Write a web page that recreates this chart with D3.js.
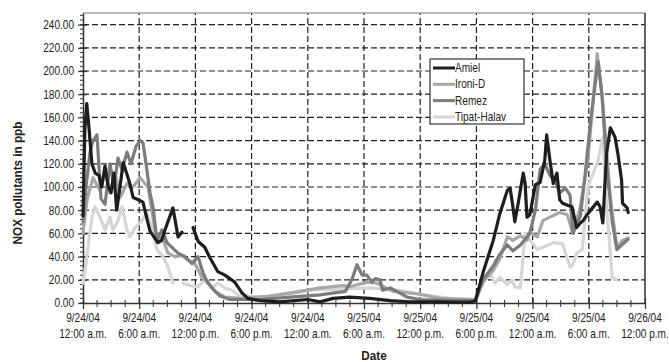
<!DOCTYPE html>
<html>
<head>
<meta charset="utf-8">
<script src="https://cdn.jsdelivr.net/npm/d3@7"></script>
<style>
  body { margin: 0; background: #fff; }
  svg text { font-family: "Liberation Sans", Arial, sans-serif; fill: #222; }
</style>
</head>
<body>
<div id="chart"></div>
<script>
// hours since 9/24/04 00:00, NOx in ppb; null = gap in the record
const amiel = [[0,75],[0.2,150],[0.4,172],[0.65,150],[0.95,120],[1.3,112],[1.7,110],[2.0,100],[2.35,118],[2.7,100],[3.0,95],[3.3,112],[3.6,80],[4.3,121],[5.0,103],[5.35,91],[5.9,89],[6.4,87],[6.6,80],[7.15,62],[8.0,52],[8.4,54],[8.75,63],[9.6,82],[10.15,57],[10.55,61],null,[11.75,65],[12.3,53],[13.0,48],[13.55,39],[14.4,27],[15.15,24],[16.2,18],[16.95,9],[17.6,4],[18.9,2],[21,1],[24,3],[25.3,1],[26.7,4],[28.5,5],[30.6,4],[32.8,2],[35,1],[38,1],[41.3,0.5],[41.9,2],[42.7,26],[43.8,54],[44.5,77],[45.3,97],[45.6,99],[45.9,83],[46.1,70],[46.4,83],[47.0,112],[47.2,103],[47.4,74],[47.7,76],[48.3,102],[48.8,104],[49.3,123],[49.5,145],[49.85,123],[50.2,103],[50.6,112],[50.9,89],[51.2,86],[51.8,84],[52.2,83],[52.7,65],[53.1,69],[53.4,71],[53.9,77],[54.4,82],[54.9,87],[55.2,83],[55.5,69],[55.9,129],[56.3,151],[56.8,143],[57.1,129],[57.5,106],[57.6,86],[58.1,82],[58.2,78]];
const ironiD = [[0,60],[0.43,89],[1.07,108],[1.81,97],[2.35,114],[2.88,95],[3.42,112],[3.95,91],[4.7,103],[5.34,100],[6.09,108],[6.62,103],[6.94,100],[7.47,74],[7.9,52],[8.43,57],[9.07,43],[9.82,40],[10.57,41],[11.21,37],[11.96,34],[12.7,22],[13.35,18],[14.09,10],[15.16,5],[16.76,4],[19.96,6],[23.17,10],[25.3,13],[27.76,15],[28.5,14],[30.3,18],[31.4,17],[33.1,10],[35.66,8],[38.1,4],[41.9,3],[42.7,18],[43.8,28],[44.5,38],[45.3,57],[45.9,54],[46.7,58],[47.4,54],[47.7,61],[48.5,57],[49.1,71],[49.85,74],[50.9,78],[51.7,76],[52.3,60],[53.1,83],[53.9,123],[54.9,215],[55.5,172],[56.3,91],[57.0,48],[57.6,54],[58.2,56]];
const remez = [[0,70],[0.32,100],[0.75,130],[1.07,140],[1.49,145],[1.92,90],[2.35,85],[2.88,120],[3.31,100],[3.74,125],[4.16,115],[4.7,130],[5.12,120],[5.66,135],[6.09,140],[6.41,138],[6.73,120],[7.15,95],[7.47,83],[7.9,54],[8.43,63],[8.97,52],[9.5,48],[10.14,43],[10.89,40],[11.64,34],[12.28,40],[12.81,26],[13.35,17],[13.88,12],[14.63,6],[15.69,3],[18.9,3],[22.1,5],[25.3,7],[28.0,10],[28.7,20],[29.25,33],[29.8,24],[30.3,24],[30.85,18],[31.2,21],[31.7,20],[32.0,11],[32.8,13],[33.5,10],[34.6,5],[36.0,3],[39.2,2],[41.9,2],[42.7,20],[43.8,32],[44.5,42],[45.3,50],[45.9,45],[46.7,50],[47.2,55],[47.7,60],[48.3,80],[48.8,115],[49.3,120],[49.85,110],[50.4,105],[50.9,95],[51.5,99],[52.0,93],[52.3,60],[53.1,75],[53.6,110],[54.1,150],[54.7,190],[55.0,208],[55.4,180],[55.9,120],[56.5,70],[57.0,46],[57.5,50],[58.2,55]];
const tipatHalav = [[0,17],[0.32,34],[0.53,48],[0.96,74],[1.28,83],[1.81,74],[2.35,63],[2.88,74],[3.2,63],[3.74,71],[4.16,83],[4.7,63],[5.02,57],[5.55,65],[6.3,71],[6.83,78],[7.47,60],[7.9,46],[8.54,40],[9.07,31],[9.61,17],null,[10.68,17],[11.42,15],[12.28,14],[13.02,20],[13.77,13],[14.41,17],[15.16,13],[15.91,11],[16.55,7],[18.9,5],[22.1,8],[24.2,11],[27.4,12],[30.6,13],[33.8,11],[36.3,7],[39.2,4],[41.9,3],[42.7,17],[43.4,26],[44.0,17],[44.5,22],[45.3,16],[45.8,20],[46.1,14],[46.7,13],[47.2,60],[48.5,46],[49.1,48],[50.2,52],[51.2,51],[52.0,31],[52.3,33],[52.7,43],[53.3,46],[53.9,100],[55.0,123],[55.5,143],[55.9,83],[56.5,22],[57.0,20]];

const seriesNames = ["Amiel", "Ironi-D", "Remez", "Tipat-Halav"];
const seriesColors = ["#1e1e1e", "#a8a8a8", "#7c7c7c", "#d6d6d6"];
const seriesData = [amiel, ironiD, remez, tipatHalav];
const drawOrder = [3, 1, 2, 0];

const xTickHours = [0, 6, 12, 18, 24, 30, 36, 42, 48, 54, 60];
const xTickDates = ["9/24/04","9/24/04","9/24/04","9/24/04","9/24/04","9/25/04","9/25/04","9/25/04","9/25/04","9/25/04","9/26/04"];
const xTickTimes = ["12:00 a.m.","6:00 a.m.","12:00 p.m.","6:00 p.m.","12:00 a.m.","6:00 a.m.","12:00 p.m.","6:00 p.m.","12:00 a.m.","6:00 a.m.","12:00 p.m."];
const yTicks = [0, 20, 40, 60, 80, 100, 120, 140, 160, 180, 200, 220, 240];

const W = 669, H = 362;
const margins = { top: 13, right: 24, bottom: 59, left: 83 };
const squeeze = 0.84; // narrow face look

const svg = d3.select("#chart").append("svg")
  .attr("width", W)
  .attr("height", H);

const x = d3.scaleLinear().domain([0, 60]).range([margins.left, W - margins.right]);
const y = d3.scaleLinear().domain([0, 250]).range([H - margins.bottom, margins.top]);

// grid
svg.append("g").selectAll("line").data(yTicks.filter(d => d > 0))
  .enter().append("line")
  .attr("x1", x(0)).attr("x2", x(60))
  .attr("y1", d => y(d)).attr("y2", d => y(d))
  .attr("stroke", "#222").attr("stroke-width", 1.2).attr("stroke-dasharray", "6,3");
svg.append("g").selectAll("line").data(xTickHours.filter(d => d > 0 && d < 60))
  .enter().append("line")
  .attr("x1", d => x(d)).attr("x2", d => x(d))
  .attr("y1", y(0)).attr("y2", y(250))
  .attr("stroke", "#222").attr("stroke-width", 1.2).attr("stroke-dasharray", "6,3");

// frame: top and right
svg.append("line").attr("x1", x(0)).attr("x2", x(60)).attr("y1", y(250)).attr("y2", y(250))
  .attr("stroke", "#777").attr("stroke-width", 1.2);
svg.append("line").attr("x1", x(60)).attr("x2", x(60)).attr("y1", y(250)).attr("y2", y(0))
  .attr("stroke", "#333").attr("stroke-width", 1.5);

// y axis
const yAxis = svg.append("g").attr("transform", "translate(" + margins.left + ",0)")
  .call(d3.axisLeft(y).tickValues(yTicks).tickFormat(d3.format(".2f")).tickSize(5).tickSizeOuter(0));
yAxis.select(".domain").attr("stroke", "#333").attr("stroke-width", 1.5);
yAxis.selectAll(".tick line").attr("x2", 4).attr("x1", -5).attr("stroke", "#333").attr("stroke-width", 1.2);
yAxis.selectAll("text")
  .attr("x", -9 / squeeze)
  .attr("transform", "scale(" + squeeze + ",1)")
  .style("font-size", "12px");
svg.append("g").selectAll("line").data(d3.range(0, 250, 4))
  .enter().append("line")
  .attr("x1", margins.left - 3).attr("x2", margins.left)
  .attr("y1", d => y(d)).attr("y2", d => y(d))
  .attr("stroke", "#333").attr("stroke-width", 1);

// x axis
const xAxis = svg.append("g").attr("transform", "translate(0," + y(0) + ")")
  .call(d3.axisBottom(x).tickValues(xTickHours).tickFormat("").tickSize(5).tickSizeOuter(0));
xAxis.select(".domain").attr("stroke", "#333").attr("stroke-width", 1.5);
xAxis.selectAll(".tick line").attr("y1", -5).attr("y2", 6).attr("stroke", "#333").attr("stroke-width", 1.2);
svg.append("g").selectAll("line").data(d3.range(0, 60, 1.5).filter(d => d % 6 !== 0))
  .enter().append("line")
  .attr("x1", d => x(d)).attr("x2", d => x(d))
  .attr("y1", y(0) - 3).attr("y2", y(0) + 4)
  .attr("stroke", "#333").attr("stroke-width", 1);
const xLabels = svg.append("g").attr("transform", "scale(" + squeeze + ",1)")
  .selectAll("text").data(xTickHours)
  .enter().append("text")
  .attr("text-anchor", "middle")
  .style("font-size", "12px");
xLabels.append("tspan").attr("x", d => x(d) / squeeze).attr("y", 322).text((d, i) => xTickDates[i]);
xLabels.append("tspan").attr("x", d => x(d) / squeeze).attr("y", 338).text((d, i) => xTickTimes[i]);

// titles
svg.append("text")
  .attr("transform", "translate(22,183) rotate(-90) scale(0.9,1)")
  .attr("text-anchor", "middle")
  .style("font-size", "13px").style("font-weight", "bold")
  .text("NOX pollutants in ppb");
svg.append("text")
  .attr("transform", "translate(374,360) scale(0.9,1)")
  .attr("text-anchor", "middle")
  .style("font-size", "13px").style("font-weight", "bold")
  .text("Date");

// series
const line = d3.line()
  .defined(d => d !== null)
  .x(d => x(d[0]))
  .y(d => y(d[1]));
svg.append("g").selectAll("path").data(drawOrder)
  .enter().append("path")
  .attr("d", i => line(seriesData[i]))
  .attr("fill", "none")
  .attr("stroke", i => seriesColors[i])
  .attr("stroke-width", 3.2)
  .attr("stroke-linejoin", "round")
  .attr("stroke-linecap", "round");

// legend
const legend = svg.append("g");
legend.append("rect")
  .attr("x", 430).attr("y", 59).attr("width", 94).attr("height", 65)
  .attr("fill", "#fff").attr("stroke", "#333").attr("stroke-width", 1.2);
const entries = legend.selectAll("g.entry").data(seriesNames)
  .enter().append("g").attr("class", "entry")
  .attr("transform", (d, i) => "translate(0," + (68 + i * 16.3) + ")");
entries.append("line")
  .attr("x1", 433).attr("x2", 455)
  .attr("stroke", (d, i) => seriesColors[i]).attr("stroke-width", 3);
entries.append("text")
  .attr("transform", "translate(455,4) scale(" + squeeze + ",1)")
  .style("font-size", "12px")
  .text(d => d);
</script>
</body>
</html>
